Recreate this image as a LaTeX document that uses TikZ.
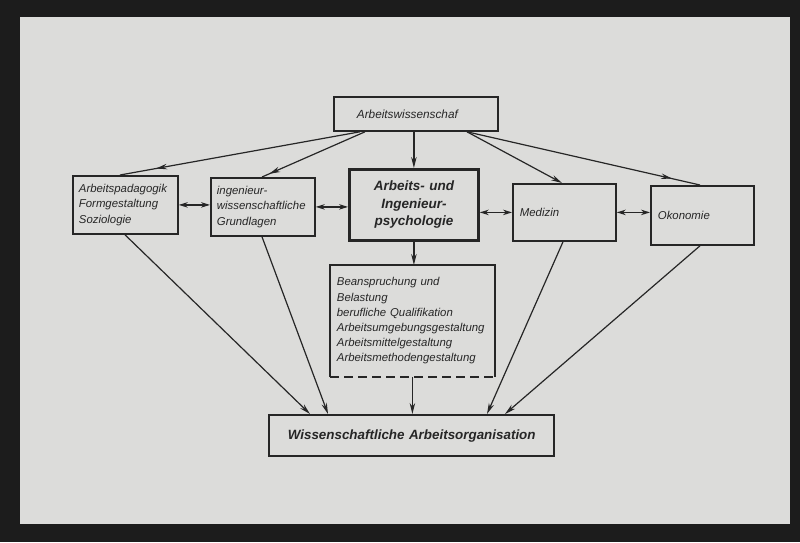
\documentclass[tikz,border=0pt]{standalone}
\usepackage{fontspec}
\setmainfont{Liberation Sans}
\usetikzlibrary{arrows.meta,decorations.markings}
\definecolor{frame}{HTML}{1C1C1C}
\definecolor{paper}{HTML}{DCDCDA}
\definecolor{ink}{HTML}{262626}
\begin{document}
\begin{tikzpicture}[x=1pt,y=-1pt,
  box/.style={draw=ink, line width=1.8pt, rectangle, anchor=north west, inner ysep=0pt,
    font=\itshape\fontsize{11.4}{15.5}\selectfont, text=ink, align=left},
  conn/.style={draw=ink, line width=1.2pt},
  tipend/.style={-{Stealth[length=11pt,width=5.5pt]}},
  dtip/.style={{Stealth[length=9pt,width=5.5pt]}-{Stealth[length=9pt,width=5.5pt]}},
  arrat/.style={postaction={decorate}, decoration={markings,
    mark=at position #1 with {\arrow{Stealth[length=11pt,width=5.5pt]}}}}
]
\useasboundingbox (0,0) rectangle (800,542);
\fill[frame] (0,0) rectangle (800,542);
\fill[paper] (20,17) rectangle (790,524);

% boxes
\node[box, inner xsep=23pt, text width=118pt, minimum width=164pt, minimum height=34pt,
  font=\itshape\fontsize{11.8}{14}\selectfont] (T) at (333,96) {Arbeitswissenschaf};
\node[box, inner xsep=6pt, text width=93pt, minimum width=105pt, minimum height=58pt] (A) at (72,175) {Arbeitspadagogik\\Formgestaltung\\Soziologie};
\node[box, inner xsep=6pt, text width=92pt, minimum width=104pt, minimum height=58pt] (B) at (210,177) {ingenieur-\\wissenschaftliche\\Grundlagen};
\node[box, line width=2.8pt, inner xsep=3pt, text width=123pt, minimum width=129pt, minimum height=71pt,
  align=center, font=\bfseries\itshape\fontsize{13.5}{17.5}\selectfont] (C) at (348,168) {Arbeits- und\\Ingenieur-\\psychologie};
\node[box, inner xsep=7pt, text width=89pt, minimum width=103pt, minimum height=57pt] (D) at (512,183) {Medizin};
\node[box, inner xsep=7pt, text width=89pt, minimum width=103pt, minimum height=59pt] (E) at (650,185) {Okonomie};
\node[box, draw=none, inner xsep=6pt, text width=151pt, minimum width=163pt, minimum height=110pt,
  font=\itshape\fontsize{11.4}{15.2}\selectfont] (F) at (330,265)
  {Beanspruchung und\\Belastung\\berufliche Qualifikation\\Arbeitsumgebungsgestaltung\\Arbeitsmittelgestaltung\\Arbeitsmethodengestaltung};
\draw[ink, line width=1.8pt] (F.south west) -- (F.north west) -- (F.north east) -- (F.south east);
\draw[ink, line width=1.8pt, dash pattern=on 9pt off 5pt] (F.south west) -- (F.south east);
\node[box, line width=2.4pt, inner xsep=3pt, text width=279pt, minimum width=285pt, minimum height=41pt,
  align=center, font=\bfseries\itshape\fontsize{13.4}{15}\selectfont] (G) at (268,414) {Wissenschaftliche Arbeitsorganisation};

% fan from top box
\draw[conn, arrat=0.85] ([xshift=27pt]T.south west) -- ([xshift=48pt]A.north west);
\draw[conn, arrat=0.93] ([xshift=32pt]T.south west) -- ([xshift=52pt]B.north west);
\draw[conn, tipend] (T.south -| C.north) -- (C.north);
\draw[conn, tipend] ([xshift=134pt]T.south west) -- ([xshift=50pt]D.north west);
\draw[conn, arrat=0.88] ([xshift=134pt]T.south west) -- ([xshift=50pt]E.north west);

% horizontal links
\draw[conn, dtip] (A.east) -- (A.east -| B.west);
\draw[conn, dtip] (B.east) -- (B.east -| C.west);
\draw[conn, dtip] (D.west -| C.east) -- (D.west);
\draw[conn, dtip] (D.east) -- (D.east -| E.west);

% downward
\draw[conn, tipend] (C.south) -- (C.south |- F.north);
\draw[conn, tipend] (F.south) -- (F.south |- G.north);
\draw[conn, tipend] ([xshift=53pt]A.south west) -- ([xshift=42pt]G.north west);
\draw[conn, tipend] ([xshift=52pt]B.south west) -- ([xshift=60pt]G.north west);
\draw[conn, tipend] ([xshift=51pt]D.south west) -- ([xshift=219pt]G.north west);
\draw[conn, tipend] ([xshift=50pt]E.south west) -- ([xshift=237pt]G.north west);
\end{tikzpicture}
\end{document}
